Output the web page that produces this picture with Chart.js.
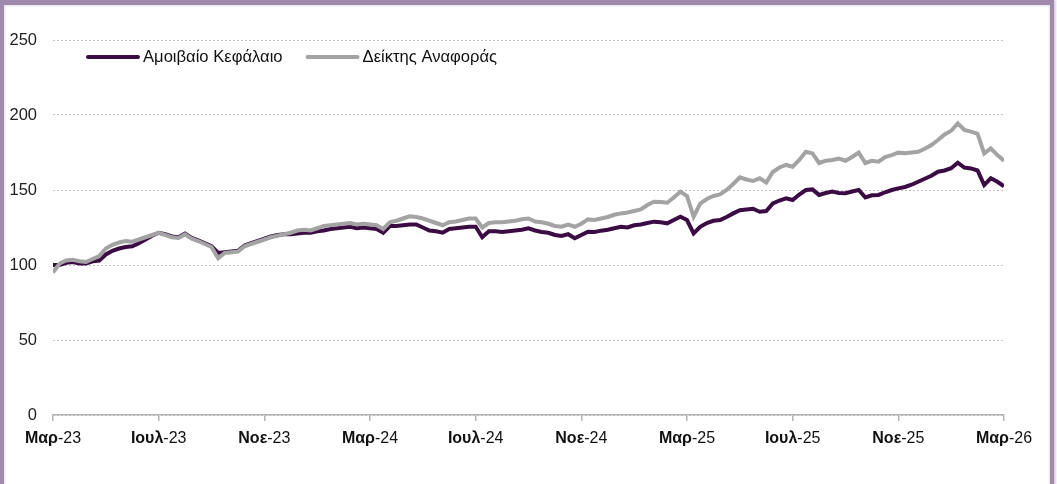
<!DOCTYPE html>
<html lang="el">
<head>
    <meta charset="UTF-8">
    <title>Αμοιβαίο Κεφάλαιο vs Δείκτης Αναφοράς</title>
    <style>
        html, body {
            margin: 0;
            padding: 0;
            background: #fff;
            overflow: hidden;
        }

        .wrap {
            position: relative;
            width: 1057px;
            height: 484px;
        }

        #chart {
            position: absolute;
            left: 0;
            top: 0;
        }

        .frame {
            position: absolute;
            left: 0;
            top: 0;
            width: 1046px;
            height: 520px;
            border: 4px solid #a08aab;
            border-top-width: 5px;
            box-shadow: 0 0 3px 1px rgba(120, 90, 135, 0.45), inset 0 0 3px rgba(120, 90, 135, 0.35);
            pointer-events: none;
        }
    </style>
</head>
<body>
<div class="wrap">
    <canvas id="chart" width="1057" height="484"></canvas>
    <div class="frame"></div>
</div>
<script src="https://cdn.jsdelivr.net/npm/chart.js"></script>
<script>
    // month labels on the x axis, one every 4 months
    const xTickLabels = ['Μαρ-23', 'Ιουλ-23', 'Νοε-23', 'Μαρ-24', 'Ιουλ-24', 'Νοε-24', 'Μαρ-25', 'Ιουλ-25', 'Νοε-25', 'Μαρ-26'];
    const yTicks = [0, 50, 100, 150, 200, 250];
    const seriesNames = ['Αμοιβαίο Κεφάλαιο', 'Δείκτης Αναφοράς'];

    // roughly weekly readings (4 per month) from Mar-23 to Mar-26
    const fundValues = [
        100, 100, 101.5, 102, 101, 101, 102.5, 103, 107, 109.5, 111, 112,
        112.5, 114.5, 117, 119.5, 121.5, 120.5, 119, 118.5, 121, 118, 116.5, 114.5,
        112.5, 108, 108.5, 109, 109.5, 113, 114.5, 116, 117.5, 119, 120, 120.5,
        120.5, 121, 121.5, 121.5, 122.5, 123, 124, 124.5, 125, 125.5, 124.5, 125,
        124.5, 124, 121.5, 126, 126, 126.5, 127, 127, 125, 123, 122.5, 121.5,
        124, 124.5, 125, 125.5, 125.5, 118.5, 122.5, 122.5, 122, 122.5, 123, 123.5,
        124.4, 123, 122, 121.5, 120, 119.3, 120.5, 117.8, 120, 122.2, 122, 122.9,
        123.5, 124.5, 125.5, 125, 126.5, 127, 128, 128.9, 128.5, 127.8, 130, 132.2,
        130, 121.1, 125.5, 128, 129.5, 130, 132, 134.4, 136.5, 137, 137.5, 135.5,
        136, 141, 143, 144.4, 143.3, 147, 150, 150.4, 146.7, 148, 148.9, 148,
        147.8, 149, 150, 145.1, 146.5, 146.7, 148.5, 150, 151.1, 152, 153.5, 155.5,
        157.5, 159.5, 162.2, 163, 164.5, 168.2, 165, 164.4, 163, 153.3, 157.8, 155.5,
        152.5
    ];
    const benchValues = [
        95, 101, 103, 103.5, 102.5, 102, 104, 106, 111, 113.5, 115, 116,
        115.5, 117, 118.5, 120, 121.5, 120, 118.5, 118, 120.5, 117.5, 116, 114,
        112, 104.5, 108, 108.5, 109, 112.5, 114, 115.5, 117, 118.5, 119.5, 120.5,
        121.5, 123, 123.5, 123, 124.5, 126, 126.5, 127, 127.5, 128, 127, 127.5,
        127, 126.5, 124, 128.5, 129.5, 131, 132.5, 132, 131, 129.5, 128, 126.5,
        128.5, 129, 130, 131, 131, 125, 128, 128.5, 128.5, 129, 129.5, 130.5,
        131, 129, 128.5, 127.5, 126, 125.5, 127, 125.5, 127.5, 130.4, 130, 131,
        132, 133.5, 134.4, 135, 136, 137, 140, 142.2, 142, 141.5, 145, 148.9,
        146, 132.2, 141, 144, 146, 147, 150, 154, 158.5, 157, 156, 157.8,
        155, 162, 165, 166.7, 165.5, 170, 175.5, 174.4, 168, 169.5, 170, 171,
        169.5, 172, 174.9, 168, 169.5, 168.9, 172, 173.3, 174.9, 174.5, 175, 175.5,
        177.5, 180, 183.3, 187, 189.5, 194.4, 190, 188.9, 187.5, 174.4, 177.8, 173.3,
        169.5
    ];
    const monthsPerPoint = 0.25;

    const fundColor = '#3b0c43';
    const benchColor = '#a3a3a3';
    const fontFamily = '"Liberation Sans", Arial, sans-serif';

    const toPoints = vals => vals.map((v, i) => ({ x: i * monthsPerPoint, y: v }));

    // x labels: month part bold, year part regular
    const xLabelPlugin = {
        id: 'xLabels',
        afterDraw(chart) {
            const ctx = chart.ctx;
            const xs = chart.scales.x;
            const y = chart.chartArea.bottom + 24;
            ctx.save();
            ctx.textBaseline = 'middle';
            ctx.fillStyle = '#111';
            xs.ticks.forEach((t, k) => {
                const label = xTickLabels[k];
                if (!label) return;
                const cut = label.indexOf('-');
                const head = label.slice(0, cut);
                const tail = label.slice(cut);
                ctx.font = 'bold 16px ' + fontFamily;
                const w1 = ctx.measureText(head).width;
                ctx.font = '16px ' + fontFamily;
                const w2 = ctx.measureText(tail).width;
                const x0 = xs.getPixelForValue(t.value) - (w1 + w2) / 2;
                ctx.textAlign = 'left';
                ctx.font = 'bold 16px ' + fontFamily;
                ctx.fillText(head, x0, y);
                ctx.font = '16px ' + fontFamily;
                ctx.fillText(tail, x0 + w1, y);
            });
            ctx.restore();
        }
    };

    // legend drawn inside the plot area, top left
    const legendPlugin = {
        id: 'innerLegend',
        afterDraw(chart) {
            const ctx = chart.ctx;
            const y = 57;
            let x = 88;
            ctx.save();
            ctx.font = '16.6px ' + fontFamily;
            ctx.textBaseline = 'middle';
            ctx.textAlign = 'left';
            chart.data.datasets.forEach(ds => {
                ctx.strokeStyle = ds.borderColor;
                ctx.lineWidth = 4;
                ctx.lineCap = 'round';
                ctx.beginPath();
                ctx.moveTo(x, y);
                ctx.lineTo(x + 50, y);
                ctx.stroke();
                ctx.fillStyle = '#111';
                ctx.fillText(ds.label, x + 55, y);
                x += 55 + ctx.measureText(ds.label).width + 25;
            });
            ctx.restore();
        }
    };

    new Chart(document.getElementById('chart'), {
        type: 'line',
        data: {
            datasets: [
                {
                    label: seriesNames[0],
                    data: toPoints(fundValues),
                    borderColor: fundColor,
                    borderWidth: 4,
                    pointRadius: 0,
                    tension: 0,
                    order: 2
                },
                {
                    label: seriesNames[1],
                    data: toPoints(benchValues),
                    borderColor: benchColor,
                    borderWidth: 4,
                    pointRadius: 0,
                    tension: 0,
                    order: 1
                }
            ]
        },
        options: {
            responsive: false,
            animation: false,
            layout: { padding: { left: 0, right: 53, top: 40, bottom: 0 } },
            plugins: {
                legend: { display: false },
                tooltip: { enabled: false }
            },
            scales: {
                x: {
                    type: 'linear',
                    min: 0,
                    max: 36,
                    afterFit: s => { s.height = 69; },
                    afterBuildTicks: s => { s.ticks = xTickLabels.map((_, k) => ({ value: k * 4 })); },
                    ticks: {
                        color: 'rgba(0,0,0,0)',
                        font: { size: 16 },
                        maxRotation: 0,
                        autoSkip: false
                    },
                    grid: {
                        drawOnChartArea: false,
                        drawTicks: true,
                        tickLength: 6,
                        color: '#b3b3b3',
                        lineWidth: 1.5
                    },
                    border: { display: true, color: '#b3b3b3', width: 1.5 }
                },
                y: {
                    min: 0,
                    max: 250,
                    afterFit: s => { s.width = 53; },
                    afterBuildTicks: s => { s.ticks = yTicks.map(v => ({ value: v })); },
                    ticks: {
                        color: '#222',
                        padding: 16,
                        font: { size: 16.5, family: fontFamily }
                    },
                    grid: {
                        drawTicks: false,
                        color: '#c4c4c4',
                        lineWidth: 1
                    },
                    border: { display: false, dash: [2, 2] }
                }
            }
        },
        plugins: [xLabelPlugin, legendPlugin]
    });
</script>
</body>
</html>
